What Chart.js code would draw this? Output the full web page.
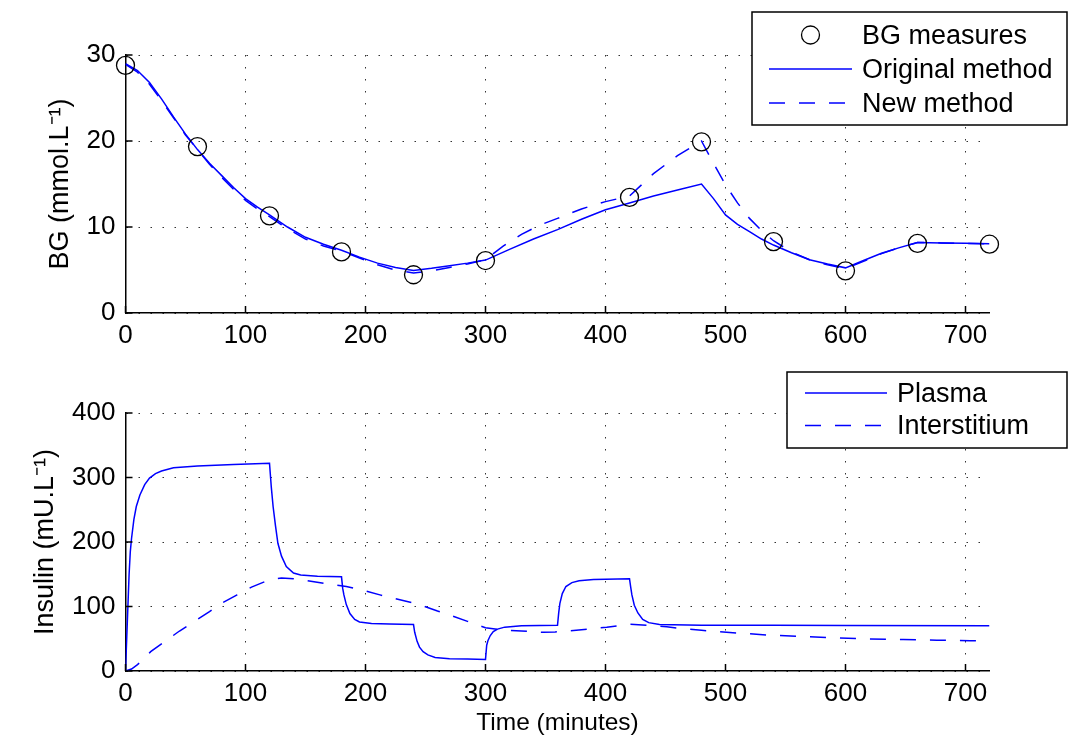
<!DOCTYPE html>
<html>
<head>
<meta charset="utf-8">
<title>BG e insulina</title>
<script src="https://cdn.jsdelivr.net/npm/chart.js@4.4.0/dist/chart.umd.min.js"></script>
<style>
    html, body { margin: 0; padding: 0; background: #fff; }
    #wrap { position: relative; width: 1068px; height: 746px; }
    canvas { position: absolute; left: 0; }
    #bgChart { top: 0; }
    #insChart { top: 370px; }
</style>
</head>
<body>
<div id="wrap">
    <canvas id="bgChart" width="1068" height="370"></canvas>
    <canvas id="insChart" width="1068" height="376"></canvas>
</div>
<script>
// Mediciones de glucosa (círculos)
const measureTime = [0, 60, 120, 180, 240, 300, 420, 480, 540, 600, 660, 720];
const measureBG = [28.8, 19.35, 11.3, 7.1, 4.45, 6.1, 13.45, 19.9, 8.3, 4.9, 8.1, 8.0];

// Método original (línea continua)
const origTime = [0, 10, 20, 30, 40, 50, 60, 70, 80, 90, 100, 110, 120, 135, 150, 165, 180, 195, 210, 225, 240, 255, 270, 285, 300,
    320, 340, 360, 380, 400, 420, 440, 460, 480, 490, 500, 510, 520, 530, 540, 555, 570, 585, 600, 615, 630, 645, 660, 680, 700, 720];
const origBG = [29.0, 28.2, 26.8, 24.9, 22.8, 20.8, 19.0, 17.4, 16.0, 14.6, 13.3, 12.3, 11.4, 10.0, 8.8, 8.0, 7.3, 6.5, 5.8, 5.3, 4.95, 5.2, 5.5, 5.8, 6.15,
    7.4, 8.6, 9.7, 10.9, 12.0, 12.8, 13.6, 14.3, 15.0, 13.3, 11.4, 10.3, 9.45, 8.6, 7.9, 7.0, 6.2, 5.7, 5.25, 6.1, 6.95, 7.6, 8.2, 8.15, 8.1, 8.05];

// Método nuevo (línea discontinua)
const newTime = [0, 10, 20, 30, 40, 50, 60, 70, 80, 90, 100, 110, 120, 135, 150, 165, 180, 195, 210, 225, 240, 255, 270, 285, 300,
    315, 330, 345, 360, 380, 400, 420, 440, 460, 480, 490, 500, 510, 520, 530, 540, 555, 570, 585, 600, 615, 630, 645, 660, 680, 700, 720];
const newBG = [28.9, 28.0, 26.6, 24.7, 22.7, 20.7, 19.0, 17.3, 15.8, 14.4, 13.1, 12.1, 11.2, 9.8, 8.6, 7.8, 7.2, 6.4, 5.6, 5.0, 4.65, 4.9, 5.3, 5.7, 6.2,
    7.8, 9.15, 10.2, 11.0, 12.1, 12.95, 13.6, 16.2, 18.3, 20.0, 17.4, 14.9, 12.8, 11.0, 9.6, 8.4, 7.1, 6.2, 5.6, 5.15, 6.0, 6.9, 7.6, 8.2, 8.15, 8.1, 8.05];

// Insulina en plasma
const plasmaTime = [0, 1, 2, 3, 4, 5, 7, 9, 12, 16, 20, 25, 30, 40, 60, 90, 120, 121.5, 123, 125, 127, 130, 134, 140, 146, 160, 180,
    181, 182, 184, 187, 191, 195, 205, 220, 240, 241, 243, 245, 248, 252, 258, 270, 285, 300,
    301, 302, 304, 306.5, 310, 316, 330, 360, 361, 362, 364, 367, 372, 378, 390, 420,
    421, 422, 424, 427, 431, 436, 445, 480, 540, 600, 720];
const plasmaIns = [0, 50, 100, 150, 185, 205, 235, 255, 273, 289, 299, 306, 310, 315, 318, 320, 322, 285, 255, 225, 198, 178, 162, 152, 149, 147, 146,
    128, 118, 103, 89, 80, 76, 73.5, 73, 72, 60, 46, 37, 30, 25, 21, 19, 18.5, 18,
    40, 47, 55, 61, 65, 68, 70, 71, 90, 105, 120, 131, 137, 140, 142, 143,
    130, 118, 102, 90, 80, 75, 72, 71, 71, 70.5, 70];

// Insulina en el intersticio
const interTime = [0, 5, 10, 15, 21, 30, 45, 60, 70, 80, 93, 105, 118, 125, 130, 140, 151, 165, 184, 200, 212, 225, 243, 260, 270, 285, 297, 300,
    312, 330, 348, 358, 380, 401, 420, 435, 451, 465, 480, 509, 537, 565, 593, 620, 648, 676, 704, 720];
const interIns = [0, 3, 10, 18, 30, 42, 62, 80, 92, 105, 118, 130, 140, 143, 144, 143, 140, 136, 131, 124, 118, 112, 104, 93, 87, 77, 69, 67,
    64, 62, 60, 60.5, 64, 68, 72.5, 71, 68.5, 65.5, 63, 59, 55.5, 53.5, 51.4, 49.8, 48.8, 47.7, 47, 46.5];

const FONT = '"Liberation Sans", Arial, Helvetica, sans-serif';
const BLUE = '#0000ff';
const DASH = [16, 14];

function toXY(xs, ys) {
    return xs.map((x, i) => ({ x: x, y: ys[i] }));
}

// Ticks hacia dentro y leyenda con marco (estilo MATLAB)
const matlabPlugin = {
    id: 'matlab',
    afterDraw(chart, args, opts) {
        const ctx = chart.ctx;
        const area = chart.chartArea;
        const xs = chart.scales.x;
        const ys = chart.scales.y;
        ctx.save();
        ctx.strokeStyle = '#000';
        ctx.lineWidth = 1.5;
        ctx.setLineDash([]);
        ctx.beginPath();
        xs.ticks.forEach(t => {
            const px = xs.getPixelForValue(t.value);
            ctx.moveTo(px, area.bottom);
            ctx.lineTo(px, area.bottom - 7);
        });
        ys.ticks.forEach(t => {
            const py = ys.getPixelForValue(t.value);
            ctx.moveTo(area.left, py);
            ctx.lineTo(area.left + 7, py);
        });
        ctx.stroke();

        // Leyenda
        const b = opts.box;
        ctx.fillStyle = '#fff';
        ctx.fillRect(b.left, b.top, b.right - b.left, b.bottom - b.top);
        ctx.strokeRect(b.left, b.top, b.right - b.left, b.bottom - b.top);
        ctx.font = '27px ' + FONT;
        ctx.textBaseline = 'middle';
        ctx.textAlign = 'left';
        chart.data.datasets.forEach((ds, i) => {
            const y = b.firstRow + i * b.rowGap;
            ctx.strokeStyle = ds.borderColor;
            ctx.lineWidth = ds.borderWidth;
            if (ds.showLine === false) {
                ctx.setLineDash([]);
                ctx.beginPath();
                ctx.arc((b.lineX1 + b.lineX2) / 2, y, ds.pointRadius, 0, Math.PI * 2);
                ctx.stroke();
            } else {
                ctx.setLineDash(ds.borderDash || []);
                ctx.beginPath();
                ctx.moveTo(b.lineX1, y);
                ctx.lineTo(b.lineX2, y);
                ctx.stroke();
            }
            ctx.setLineDash([]);
            ctx.fillStyle = '#000';
            ctx.fillText(ds.label, b.textX, y + 1.5);
        });
        ctx.restore();
    }
};

function makeOptions(cfg) {
    return {
        responsive: false,
        animation: false,
        layout: { padding: { top: cfg.padTop, right: 78.5, left: 0, bottom: 0 } },
        plugins: {
            legend: { display: false },
            tooltip: { enabled: false },
            matlab: { box: cfg.box }
        },
        scales: {
            x: {
                type: 'linear',
                min: 0,
                max: 720,
                ticks: {
                    stepSize: 100,
                    includeBounds: false,
                    color: '#000',
                    font: { family: FONT, size: 26 },
                    padding: 7,
                    maxRotation: 0
                },
                grid: { color: '#333', lineWidth: 1, drawTicks: false },
                border: { color: '#000', width: 1.5, dash: [1.5, 10.5] },
                title: {
                    display: !!cfg.xTitle,
                    text: cfg.xTitle || '',
                    color: '#000',
                    font: { family: FONT, size: 24.5 },
                    padding: { top: 0, bottom: 8 }
                },
                afterFit: s => { s.height = cfg.xHeight; }
            },
            y: {
                min: 0,
                max: cfg.yMax,
                ticks: {
                    stepSize: cfg.yStep,
                    color: '#000',
                    font: { family: FONT, size: 26 },
                    padding: 10
                },
                grid: { color: '#333', lineWidth: 1, drawTicks: false },
                border: { color: '#000', width: 1.5, dash: [1.5, 10.5] },
                title: {
                    display: true,
                    text: cfg.yTitle,
                    color: '#000',
                    font: { family: FONT, size: 27 },
                    padding: { top: cfg.yTitlePad, bottom: 0 }
                },
                afterFit: s => { s.width = 125.5; }
            }
        }
    };
}

// Gráfica superior: glucosa
new Chart(document.getElementById('bgChart'), {
    type: 'line',
    data: {
        datasets: [
            {
                label: 'BG measures',
                data: toXY(measureTime, measureBG),
                showLine: false,
                borderColor: '#000',
                backgroundColor: 'rgba(0,0,0,0)',
                borderWidth: 1.3,
                pointRadius: 9,
                pointBorderWidth: 1.3,
                clip: false
            },
            {
                label: 'Original method',
                data: toXY(origTime, origBG),
                borderColor: BLUE,
                borderWidth: 1.5,
                pointRadius: 0,
                tension: 0
            },
            {
                label: 'New method',
                data: toXY(newTime, newBG),
                borderColor: BLUE,
                borderWidth: 1.5,
                borderDash: DASH,
                pointRadius: 0,
                tension: 0
            }
        ]
    },
    options: makeOptions({
        padTop: 55,
        xHeight: 57,
        yMax: 30,
        yStep: 10,
        yTitle: 'BG (mmol.L⁻¹)',
        yTitlePad: 44,
        box: { left: 752, top: 12, right: 1067, bottom: 125, firstRow: 35, rowGap: 34, lineX1: 769, lineX2: 852, textX: 862 }
    }),
    plugins: [matlabPlugin]
});

// Gráfica inferior: insulina
new Chart(document.getElementById('insChart'), {
    type: 'line',
    data: {
        datasets: [
            {
                label: 'Plasma',
                data: toXY(plasmaTime, plasmaIns),
                borderColor: BLUE,
                borderWidth: 1.5,
                pointRadius: 0,
                tension: 0
            },
            {
                label: 'Interstitium',
                data: toXY(interTime, interIns),
                borderColor: BLUE,
                borderWidth: 1.5,
                borderDash: DASH,
                pointRadius: 0,
                tension: 0
            }
        ]
    },
    options: makeOptions({
        padTop: 43,
        xHeight: 75,
        yMax: 400,
        yStep: 100,
        yTitle: 'Insulin (mU.L⁻¹)',
        yTitlePad: 29,
        xTitle: 'Time (minutes)',
        box: { left: 787, top: 2, right: 1067, bottom: 78, firstRow: 23, rowGap: 32.5, lineX1: 805, lineX2: 887, textX: 897 }
    }),
    plugins: [matlabPlugin]
});
</script>
</body>
</html>
